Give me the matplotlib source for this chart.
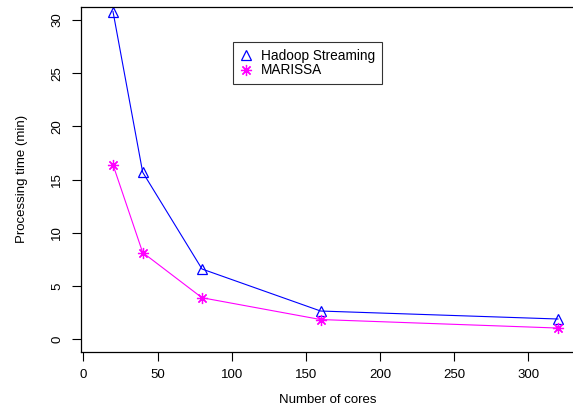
import matplotlib
matplotlib.use('Agg')
import matplotlib.pyplot as plt

plt.rcParams['font.family'] = ['Liberation Sans', 'DejaVu Sans']

# data
cores = [20, 40, 80, 160, 320]
hadoop_min = [30.8, 15.7, 6.6, 2.65, 1.9]
marissa_min = [16.4, 8.15, 3.9, 1.85, 1.05]
x_ticks = [0, 50, 100, 150, 200, 250, 300]
y_ticks = [0, 5, 10, 15, 20, 25, 30]

fig = plt.figure(figsize=(5.73, 4.09), dpi=100)
# axes box runs off the right edge like in the original
ax = fig.add_axes([0.1408, 0.1394, 0.864, 0.8442])

ax.plot(cores, hadoop_min, color='#0000FF', lw=0.8, marker='^', ms=7,
        mfc='none', mec='#0000FF', mew=0.9, label='Hadoop Streaming')
ax.plot(cores, marissa_min, color='#FF00FF', lw=0.8, marker=(8, 2, 0), ms=8,
        mec='#FF00FF', mew=0.9, label='MARISSA')

ax.set_xlim(-1.8, 332)
ax.set_ylim(-1.2, 31.26)
ax.set_xticks(x_ticks)
ax.set_yticks(y_ticks)
ax.tick_params(axis='both', direction='out', length=6.5, width=0.8,
               labelsize=9.5, pad=6)
for lab in ax.get_yticklabels():
    lab.set_rotation(90)
    lab.set_va('center')

for s in ax.spines.values():
    s.set_linewidth(0.9)

ax.set_xlabel('Number of cores', fontsize=9.5, labelpad=9)
ax.set_ylabel('Processing time (min)', fontsize=9.5, labelpad=17)

leg = ax.legend(loc='upper left', bbox_to_anchor=(0.293, 0.918), fontsize=9.8,
                frameon=True, fancybox=False, edgecolor='black',
                handlelength=1.0, handletextpad=0.6, borderpad=0.5,
                labelspacing=0.05)
leg.get_frame().set_linewidth(0.8)
for h in leg.legend_handles:
    h.set_linestyle('none')

fig.savefig('out.png', dpi=100)
